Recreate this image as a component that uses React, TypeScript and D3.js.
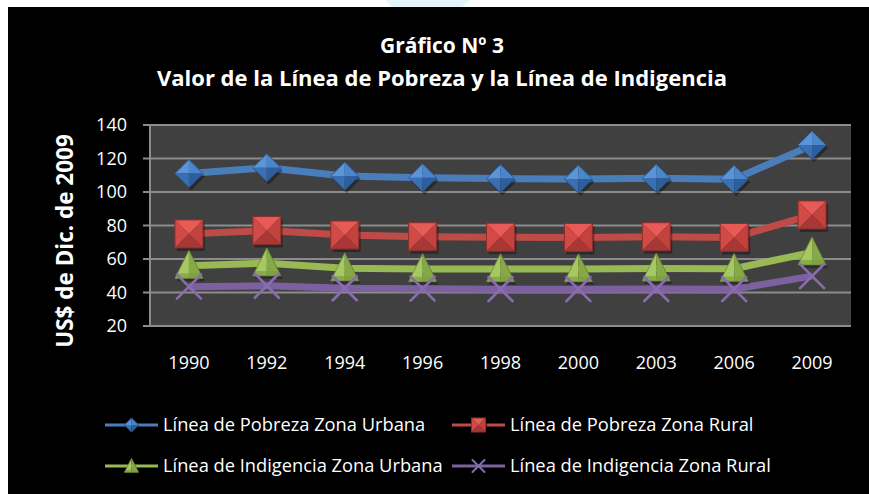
import * as React from 'react';
import * as d3 from 'd3';

const years = ['1990', '1992', '1994', '1996', '1998', '2000', '2003', '2006', '2009'];
const pobrezaUrbana = [111, 114.5, 109.5, 108.5, 108, 107.7, 108.2, 107.6, 128];
const pobrezaRural = [75, 77, 74.3, 73.3, 73, 72.9, 73.3, 72.9, 86.3];
const indigenciaUrbana = [56, 57.5, 54.5, 54, 54, 54, 54.4, 54.2, 64];
const indigenciaRural = [43.5, 44, 42.5, 42.3, 42, 42, 42.1, 42, 49.8];
const yTicks = [20, 40, 60, 80, 100, 120, 140];

const series = [
  { name: 'Línea de Pobreza Zona Urbana', values: pobrezaUrbana, color: '#4a7ebb', marker: 'diamond' },
  { name: 'Línea de Pobreza Zona Rural', values: pobrezaRural, color: '#be4b48', marker: 'square' },
  { name: 'Línea de Indigencia Zona Urbana', values: indigenciaUrbana, color: '#98b954', marker: 'triangle' },
  { name: 'Línea de Indigencia Zona Rural', values: indigenciaRural, color: '#7d60a0', marker: 'x' },
];

const FONT = '"Open Sans", Lato, sans-serif';

function Marker({ type, cx, cy, s }: { type: string; cx: number; cy: number; s: number }) {
  const h = s / 2;
  if (type === 'diamond') {
    const t = `${cx},${cy - h}`, r = `${cx + h},${cy}`, b = `${cx},${cy + h}`, l = `${cx - h},${cy}`, c = `${cx},${cy}`;
    return (
      <g>
        <polygon points={`${t} ${r} ${b} ${l}`} fill="#000" opacity={0.35} transform="translate(2,3)" />
        <polygon points={`${l} ${t} ${c}`} fill="#5b95d8" />
        <polygon points={`${t} ${r} ${c}`} fill="#4a86cc" />
        <polygon points={`${l} ${b} ${c}`} fill="#3a70b3" />
        <polygon points={`${r} ${b} ${c}`} fill="#2d5f9e" />
        <polygon points={`${t} ${r} ${b} ${l}`} fill="none" stroke="#2b5a94" strokeWidth={1} />
      </g>
    );
  }
  if (type === 'square') {
    const tl = `${cx - h},${cy - h}`, tr = `${cx + h},${cy - h}`, br = `${cx + h},${cy + h}`, bl = `${cx - h},${cy + h}`, c = `${cx},${cy}`;
    return (
      <g>
        <rect x={cx - h + 2} y={cy - h + 3} width={s} height={s} fill="#000" opacity={0.35} />
        <polygon points={`${tl} ${tr} ${c}`} fill="#e85a56" />
        <polygon points={`${tl} ${bl} ${c}`} fill="#d24a46" />
        <polygon points={`${tr} ${br} ${c}`} fill="#c4423e" />
        <polygon points={`${bl} ${br} ${c}`} fill="#a83835" />
        <rect x={cx - h} y={cy - h} width={s} height={s} fill="none" stroke="#8c2e2b" strokeWidth={1} />
      </g>
    );
  }
  if (type === 'triangle') {
    const top = `${cx},${cy - h * 1.1}`, bl = `${cx - h},${cy + h * 0.9}`, br = `${cx + h},${cy + h * 0.9}`, bm = `${cx},${cy + h * 0.9}`;
    return (
      <g>
        <polygon points={`${top} ${bl} ${br}`} fill="#000" opacity={0.3} transform="translate(2,3)" />
        <polygon points={`${top} ${bl} ${bm}`} fill="#a5c862" />
        <polygon points={`${top} ${bm} ${br}`} fill="#86a846" />
        <polygon points={`${cx - h * 0.8},${cy + h * 0.55} ${cx + h * 0.8},${cy + h * 0.55} ${br} ${bl}`} fill="#7e9e40" opacity={0.7} />
        <polygon points={`${top} ${bl} ${br}`} fill="none" stroke="#6f8c38" strokeWidth={0.8} />
      </g>
    );
  }
  return (
    <g stroke="#8a6cb0" strokeWidth={Math.max(2, s / 9)} strokeLinecap="round">
      <line x1={cx - h} y1={cy - h} x2={cx + h} y2={cy + h} />
      <line x1={cx - h} y1={cy + h} x2={cx + h} y2={cy - h} />
    </g>
  );
}

export default function App() {
  const width = 869;
  const height = 494;
  const plot = { left: 150, right: 851, top: 125, bottom: 326 };

  const x = d3.scaleBand().domain(years).range([plot.left, plot.right]).padding(0);
  const y = d3.scaleLinear().domain([20, 140]).range([plot.bottom, plot.top]);
  const cx = (d: string) => (x(d) as number) + x.bandwidth() / 2;

  const line = d3.line<number>()
    .x((_, i) => cx(years[i]))
    .y(v => y(v));

  const legendPos = [
    { lx: 105, ly: 425 },
    { lx: 452, ly: 425 },
    { lx: 105, ly: 466 },
    { lx: 452, ly: 466 },
  ];

  return (
    <svg width={width} height={height} style={{ position: 'absolute', left: 0, top: 0 }}>
      <rect width={width} height={height} fill="#fff" />
      <polygon points="385,0 470,0 462,7 392,7" fill="#e3f5fb" />
      <rect x={8} y={7} width={width - 8} height={height - 7} fill="#000" />

      <text x={442} y={53} textAnchor="middle" fill="#fff" fontFamily={FONT} fontWeight="bold" fontSize={21}>Gráfico Nº 3</text>
      <text x={442} y={86} textAnchor="middle" fill="#fff" fontFamily={FONT} fontWeight="bold" fontSize={22}>Valor de la Línea de Pobreza y la Línea de Indigencia</text>

      <rect x={plot.left} y={plot.top} width={plot.right - plot.left} height={plot.bottom - plot.top} fill="#404040" />
      {yTicks.map(t => (
        <g key={t}>
          <line x1={plot.left - 7} x2={plot.right} y1={y(t)} y2={y(t)} stroke="#8c8c8c" strokeWidth={2} />
          <text x={127} y={y(t)} dy="0.35em" textAnchor="end" fill="#fff" fontFamily={FONT} fontSize={18}>{t}</text>
        </g>
      ))}
      <line x1={plot.left} x2={plot.left} y1={plot.top} y2={plot.bottom} stroke="#8c8c8c" strokeWidth={2} />

      {years.map(yr => (
        <text key={yr} x={cx(yr)} y={369} textAnchor="middle" fill="#fff" fontFamily={FONT} fontSize={18}>{yr}</text>
      ))}

      <text transform={`translate(73,${241}) rotate(-90)`} textAnchor="middle" fill="#fff" fontFamily={FONT} fontWeight="bold" fontSize={22.5}>US$ de Dic. de 2009</text>

      {series.map(s => (
        <path key={s.name} d={line(s.values) as string} fill="none" stroke={s.color} strokeWidth={7} strokeLinejoin="round" />
      ))}
      {series.map(s => (
        <g key={s.name + 'm'}>
          {s.values.map((v, i) => (
            <Marker key={i} type={s.marker} cx={cx(years[i])} cy={y(v)} s={s.marker === 'x' ? 24 : 28} />
          ))}
        </g>
      ))}

      {series.map((s, i) => {
        const { lx, ly } = legendPos[i];
        return (
          <g key={s.name + 'l'}>
            <line x1={lx} x2={lx + 53} y1={ly} y2={ly} stroke={s.color} strokeWidth={3} />
            <Marker type={s.marker} cx={lx + 26.5} cy={ly} s={s.marker === 'x' ? 12 : 14} />
            <text x={lx + 58} y={ly} dy="0.35em" fill="#fff" fontFamily={FONT} fontSize={18.3}>{s.name}</text>
          </g>
        );
      })}
    </svg>
  );
}
